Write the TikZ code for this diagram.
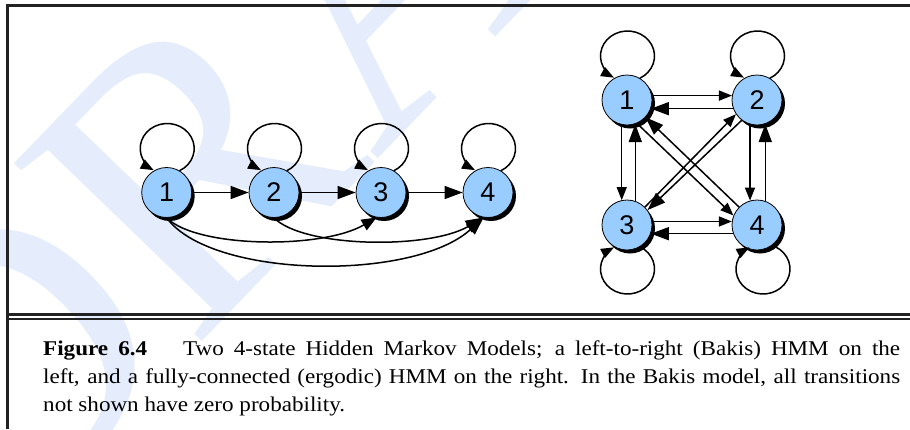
\documentclass[tikz,border=0pt]{standalone}
\usepackage{fontspec}
\setmainfont{Liberation Serif}
\newfontfamily\numfont{Liberation Sans}
\newfontfamily\capfont{Liberation Serif}[FakeStretch=1.1]
\usetikzlibrary{arrows.meta,shadows,calc}
\definecolor{nodeblue}{RGB}{153,204,255}
\definecolor{wmblue}{RGB}{229,237,252}
\definecolor{framegray}{RGB}{34,34,34}
\begin{document}
\begin{tikzpicture}[x=1pt,y=1pt,
  state/.style={circle, minimum size=50pt, inner sep=0pt, fill=nodeblue, draw=black, line width=0.8pt,
    font=\numfont\fontsize{27}{27}\selectfont,
    drop shadow={shadow xshift=3pt, shadow yshift=-3.5pt, fill=black, opacity=1}},
  conn/.style={line width=1.5pt, draw=black},
  sarr/.style={conn, -{Triangle[length=13pt,width=10pt]}},
  marr/.style={conn, -{Triangle[length=15pt,width=12pt]}},
  larr/.style={conn, -{Triangle[length=18pt,width=13pt]}},
  frameline/.style={draw=framegray, line width=2.4pt}
]
\useasboundingbox (0,0) rectangle (910,-429);
\fill[white] (0,0) rectangle (910,-429);
% watermark
\begin{scope}
  \clip (0,0) rectangle (910,-429);
  \node[rotate=46, anchor=base west, inner sep=0pt, text=wmblue,
        font=\fontsize{395}{395}\selectfont] (wm) at (-5.4,-556.5) {DRAFT};
\end{scope}
% frame
\draw[frameline] (7.3,-429) -- (7.3,-5.3) -- (910,-5.3);
\draw[frameline] (7.3,-314.5) -- (910,-314.5);
\draw[frameline] (7.3,-319) -- (910,-319);

% left model
\node[state] (L1) at (166.7,-192.5) {1};
\node[state] (L2) at (274,-192.5) {2};
\node[state] (L3) at (381,-192.5) {3};
\node[state] (L4) at (488,-192.5) {4};
\foreach \n in {L1,L2,L3,L4}{
  \draw[sarr] ($(\n.center)+(0.5,44)+(-63:27 and 25)$) arc[start angle=-63, end angle=240, x radius=27, y radius=25];
}
\draw[larr] (L1.east) -- (L2.west);
\draw[larr] (L2.east) -- (L3.west);
\draw[larr] (L3.east) -- (L4.west);
\draw[marr] (L1.south) .. controls +(30,-30) and +(-55,-32) .. (L3.-100);
\draw[larr] (L2.south) .. controls +(30,-30) and +(-55,-32) .. (L4.-100);
\draw[larr] (L1.south) .. controls +(45,-61) and +(-70,-64) .. (L4.-100);

% right model
\node[state] (R1) at (627,-100) {1};
\node[state] (R2) at (757,-100) {2};
\node[state] (R3) at (627,-225) {3};
\node[state] (R4) at (757,-225) {4};
\draw[sarr] ($(R1.center)+(0.5,44)+(-63:27 and 25)$) arc[start angle=-63, end angle=240, x radius=27, y radius=25];
\draw[sarr] ($(R2.center)+(0.5,44)+(-63:27 and 25)$) arc[start angle=-63, end angle=240, x radius=27, y radius=25];
\draw[sarr] ($(R3.center)+(0.5,-44)+(63:27 and 25)$) arc[start angle=63, end angle=-240, x radius=27, y radius=25];
\draw[sarr] ($(R4.center)+(6,-44)+(63:27 and 25)$) arc[start angle=63, end angle=-240, x radius=27, y radius=25];
\draw[sarr] (R1.10) -- (R2.170);
\draw[larr] (R2.-160) -- (R1.-20);
\draw[sarr] (R3.8) -- (R4.172);
\draw[larr] (R4.-160) -- (R3.-20);
\draw[sarr] (R1.-102) -- (R3.102);
\draw[larr] (R3.71) -- (R1.-71);
\draw[sarr] (R2.-106) -- (R4.106);
\draw[larr] (R4.71) -- (R2.-71);
\draw[sarr] (R1.-67) -- (R4.158);
\draw[larr] (R4.135) -- (R1.-43);
\draw[sarr] (R3.45) -- (R2.214);
\draw[larr] (R2.233) -- (R3.36);

% caption
\node[anchor=base west, inner sep=0pt, text width=857pt, align=justify,
      font=\capfont\fontsize{21}{28.3}\selectfont] (cap) at (43,-355)
  {\tolerance=10000 \textbf{Figure 6.4}\hspace*{36pt}Two 4-state Hidden Markov Models; a left-to-right (Bakis) HMM on the\linebreak
   left, and a fully-connected (ergodic) HMM on the right. In the Bakis model, all transitions\linebreak
   not shown have zero probability.};
\end{tikzpicture}
\end{document}
